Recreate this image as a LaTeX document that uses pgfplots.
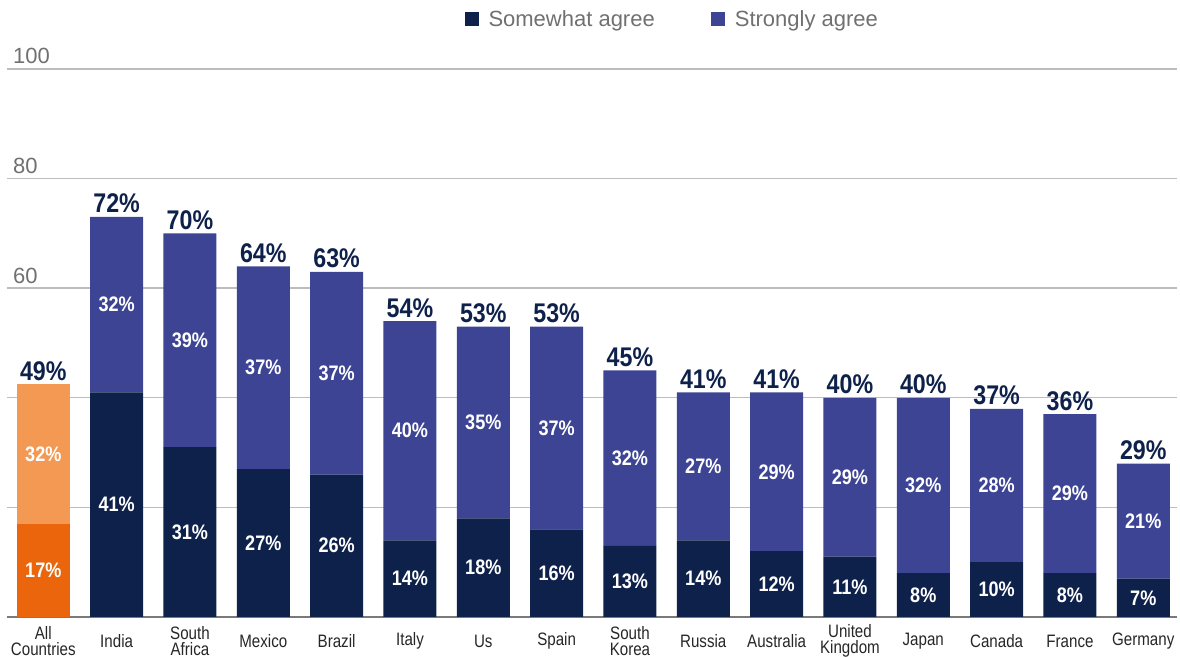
\documentclass[border=0pt]{standalone}
\usepackage{fontspec}
\setmainfont{Liberation Sans}
\newfontfamily\numfont[FakeStretch=0.86]{Liberation Sans}
\newfontfamily\catfont[FakeStretch=0.84]{Liberation Sans}
\usepackage{pgfplots}
\usepackage{pgfplotstable}
\pgfplotsset{compat=1.18}
\definecolor{navy}{HTML}{0E214B}
\definecolor{blu}{HTML}{3D4494}
\definecolor{orD}{HTML}{EA650B}
\definecolor{orL}{HTML}{F39953}
\definecolor{tickgray}{HTML}{707070}
\definecolor{gridgray}{HTML}{BDBDBD}
\definecolor{basegray}{HTML}{7A7A7A}
\definecolor{catgray}{HTML}{262626}

\pgfplotstableread{
x navy blue orD orL orLlab tot zero
0 0 0 17 25.5 32 49 0
1 41 32 0 0 0 72 0
2 31 39 0 0 0 70 0
3 27 37 0 0 0 64 0
4 26 37 0 0 0 63 0
5 14 40 0 0 0 54 0
6 18 35 0 0 0 53 0
7 16 37 0 0 0 53 0
8 13 32 0 0 0 45 0
9 14 27 0 0 0 41 0
10 12 29 0 0 0 41 0
11 11 29 0 0 0 40 0
12 8 32 0 0 0 40 0
13 10 28 0 0 0 37 0
14 8 29 0 0 0 36 0
15 7 21 0 0 0 29 0
}\data

\pgfplotsset{
  seglabel/.style={
    point meta=explicit,
    nodes near coords={\pgfmathfloatifflags{\pgfplotspointmeta}{0}{}{\pgfmathprintnumber{\pgfplotspointmeta}\%}},
    nodes near coords style={font=\numfont\bfseries\fontsize{21}{21}\selectfont, text=white, anchor=center, inner sep=0pt},
  },
  sqlegend/.style={legend image code/.code={\fill[##1] (0pt,-7pt) rectangle (14pt,7pt);}},
}

\begin{document}
\begin{tikzpicture}
\useasboundingbox (-7pt,-41pt) rectangle (1173pt,617pt);
\begin{axis}[
  at={(0,0)}, anchor=south west,
  ybar stacked,
  bar width=53pt,
  scale only axis, width=1170pt, height=548pt,
  xmin=-0.495, xmax=15.46, ymin=0, ymax=100,
  enlargelimits=false,
  axis line style={draw=none},
  tick style={draw=none},
  /pgf/number format/assume math mode=true,
  xtick={0,...,15},
  xticklabels={All\\Countries, India, South\\Africa, Mexico, Brazil, Italy, Us, Spain, South\\Korea, Russia, Australia, United\\Kingdom, Japan, Canada, France, Germany},
  xticklabel style={align=center, font=\catfont\fontsize{18}{16.5}\selectfont, text=catgray, anchor=center, yshift=-24pt, inner sep=0pt},
  ytick={20,40,60,80,100},
  yticklabels={,,60,80,100},
  yticklabel style={anchor=base west, inner sep=0pt, xshift=6pt, yshift=5pt, font=\fontsize{22}{22}\selectfont, text=tickgray},
  ymajorgrids,
  major grid style={draw=gridgray, line width=1.4pt},
  extra y ticks={0},
  extra y tick labels={},
  extra y tick style={ymajorgrids=true, major grid style={draw=basegray, line width=2pt}},
  legend style={draw=none, fill=none, at={(axis description cs:0.5677,1.0912)}, anchor=center,
    font=\fontsize{22}{26}\selectfont, text=tickgray, inner sep=0pt,
    nodes={inner sep=0pt},
    /tikz/every odd column/.append style={column sep=10pt},
    /tikz/every even column/.append style={column sep=56pt}},
  legend columns=2,
]
\addplot[fill=navy, draw=none, seglabel, sqlegend] table[x=x, y=navy, meta=navy] {\data};
\addlegendentry{Somewhat agree}
\addplot[fill=blu, draw=none, seglabel, sqlegend] table[x=x, y=blue, meta=blue] {\data};
\addlegendentry{Strongly agree}
\addplot[fill=orD, draw=none, seglabel] table[x=x, y=orD, meta=orD] {\data};
\addplot[fill=orL, draw=none, seglabel] table[x=x, y=orL, meta=orLlab] {\data};
\addplot[fill=none, draw=none, stacked ignores zero=false, point meta=explicit,
  nodes near coords={\pgfmathprintnumber{\pgfplotspointmeta}\%},
  nodes near coords style={font=\numfont\bfseries\fontsize{27}{27}\selectfont, text=navy, anchor=base, inner sep=0pt, yshift=4pt}]
  table[x=x, y=zero, meta=tot] {\data};
\end{axis}
\end{tikzpicture}
\end{document}
